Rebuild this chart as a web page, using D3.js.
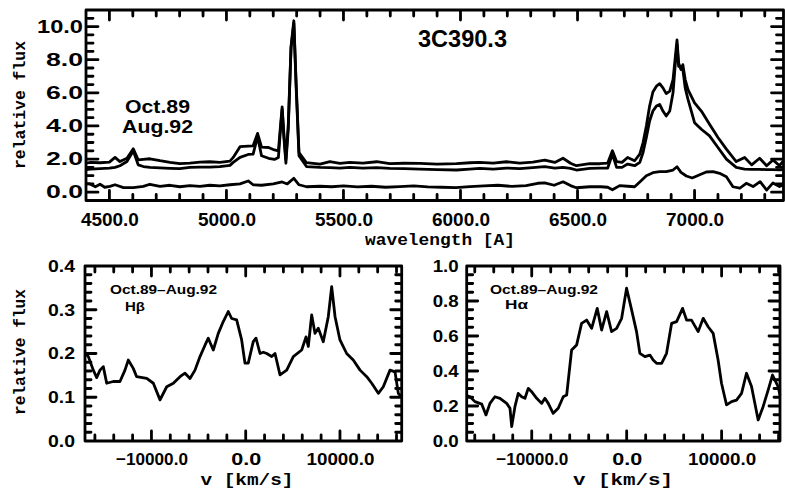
<!DOCTYPE html>
<html><head><meta charset="utf-8">
<script src="https://cdn.jsdelivr.net/npm/d3@7"></script>
<style>body{margin:0;background:#fff}svg{display:block}</style>
</head><body>
<svg id="c" width="785" height="492" viewBox="0 0 785 492"></svg>
<script>
// ---------- DATA ----------
// top panel: wavelength [A], relative flux
const oct89 = [[4400,1.75],[4420,1.8],[4460,1.78],[4500,1.82],[4524,2.1],[4545,1.85],[4575,2.05],[4602,2.62],[4623,1.95],[4645,1.98],[4673,2.02],[4716,1.9],[4759,1.8],[4801,1.72],[4844,1.76],[4887,1.82],[4929,1.84],[4972,1.8],[5015,1.88],[5029,2.1],[5058,2.75],[5093,2.78],[5114,2.8],[5133,3.55],[5150,2.72],[5180,2.7],[5205,2.55],[5222,2.5],[5231,4.0],[5238,5.15],[5246,3.4],[5254,2.0],[5264,4.0],[5276,8.8],[5288,10.35],[5298,6.5],[5310,2.4],[5342,1.78],[5400,1.7],[5442,1.84],[5485,1.74],[5527,1.8],[5583,1.76],[5642,1.84],[5698,1.72],[5760,1.75],[5826,1.74],[5900,1.7],[5983,1.72],[6040,1.78],[6082,1.8],[6140,1.76],[6196,1.84],[6253,1.76],[6309,1.82],[6360,1.94],[6403,1.8],[6438,2.05],[6470,1.75],[6495,1.6],[6552,1.72],[6595,1.72],[6629,1.76],[6649,2.5],[6667,1.85],[6690,1.8],[6714,2.1],[6744,1.9],[6766,2.3],[6780,3.0],[6794,4.0],[6808,5.2],[6822,6.05],[6837,6.4],[6851,6.55],[6865,6.3],[6879,5.95],[6894,6.1],[6908,6.8],[6918,8.2],[6925,9.2],[6932,7.8],[6942,7.4],[6950,7.7],[6960,6.8],[6972,6.2],[7000,5.4],[7029,4.9],[7064,4.1],[7100,3.3],[7136,2.6],[7178,1.85],[7214,2.1],[7244,1.65],[7278,2.05],[7308,1.6],[7335,1.95],[7363,1.6],[7380,1.9]];
const aug92 = [[4400,1.36],[4420,1.4],[4460,1.42],[4500,1.45],[4524,1.5],[4545,1.6],[4575,1.85],[4602,2.5],[4623,1.65],[4645,1.55],[4673,1.5],[4716,1.47],[4759,1.44],[4801,1.42],[4844,1.5],[4887,1.52],[4929,1.52],[4972,1.54],[5015,1.62],[5029,1.8],[5058,2.1],[5093,2.28],[5114,2.3],[5133,3.35],[5150,2.2],[5180,2.05],[5205,1.98],[5222,2.1],[5231,3.8],[5238,5.0],[5246,3.2],[5254,1.75],[5264,3.8],[5276,8.7],[5288,10.2],[5298,6.3],[5310,2.2],[5342,1.55],[5400,1.5],[5442,1.48],[5485,1.45],[5527,1.5],[5583,1.46],[5642,1.48],[5698,1.44],[5760,1.42],[5826,1.4],[5900,1.36],[5983,1.34],[6040,1.4],[6082,1.44],[6140,1.4],[6196,1.46],[6253,1.42],[6309,1.48],[6360,1.54],[6403,1.46],[6438,1.5],[6470,1.44],[6495,1.34],[6552,1.44],[6595,1.46],[6629,1.46],[6649,2.3],[6667,1.5],[6690,1.5],[6714,1.7],[6744,1.6],[6766,1.8],[6780,2.4],[6794,3.3],[6808,4.3],[6822,4.9],[6837,5.2],[6851,5.3],[6865,4.9],[6879,4.6],[6894,4.9],[6908,6.0],[6918,7.8],[6925,8.9],[6932,7.6],[6942,7.6],[6950,7.4],[6960,6.3],[6972,5.6],[7000,4.2],[7029,3.8],[7064,3.4],[7100,2.7],[7136,2.0],[7178,1.5],[7214,1.4],[7244,1.38],[7278,1.38],[7308,1.36],[7335,1.36],[7363,1.35],[7380,1.36]];
const diff = [[4400,0.52],[4417,0.5],[4440,0.33],[4460,0.48],[4480,0.3],[4502,0.35],[4524,0.45],[4560,0.28],[4602,0.28],[4645,0.35],[4673,0.48],[4716,0.35],[4759,0.42],[4801,0.33],[4844,0.4],[4887,0.35],[4929,0.42],[4972,0.38],[5015,0.45],[5058,0.5],[5093,0.68],[5114,0.45],[5150,0.42],[5200,0.5],[5238,0.62],[5260,0.5],[5288,0.84],[5310,0.45],[5342,0.33],[5400,0.36],[5450,0.33],[5500,0.38],[5560,0.32],[5620,0.36],[5680,0.3],[5740,0.34],[5800,0.38],[5860,0.32],[5920,0.3],[5980,0.28],[6040,0.34],[6100,0.38],[6160,0.42],[6220,0.35],[6280,0.4],[6330,0.54],[6360,0.56],[6400,0.42],[6438,0.63],[6470,0.4],[6495,0.27],[6552,0.33],[6600,0.33],[6629,0.3],[6649,0.15],[6680,0.4],[6714,0.36],[6744,0.33],[6766,0.62],[6794,1.0],[6822,1.18],[6851,1.24],[6879,1.24],[6908,1.34],[6925,1.54],[6942,1.2],[6965,0.98],[6990,0.86],[7022,1.05],[7050,1.22],[7079,1.24],[7107,1.14],[7136,0.94],[7164,0.33],[7193,0.24],[7221,0.54],[7250,0.34],[7280,0.64],[7308,0.13],[7335,0.56],[7363,0.34],[7380,0.45]];
// bottom panels: velocity [km/s], relative flux (Oct.89 - Aug.92)
const hbeta = [[-17050,0.2],[-16700,0.193],[-16170,0.162],[-15810,0.145],[-15460,0.162],[-15110,0.17],[-14750,0.132],[-14050,0.136],[-13340,0.136],[-12810,0.162],[-12460,0.185],[-11930,0.166],[-11570,0.147],[-10500,0.143],[-9800,0.132],[-9090,0.094],[-8380,0.124],[-7680,0.132],[-6970,0.147],[-6440,0.155],[-5910,0.143],[-5380,0.162],[-4850,0.193],[-4320,0.219],[-3970,0.235],[-3440,0.208],[-2910,0.246],[-2380,0.273],[-1850,0.296],[-1490,0.28],[-960,0.277],[-430,0.231],[-80,0.178],[270,0.178],[800,0.227],[1090,0.235],[1520,0.2],[1870,0.203],[2230,0.2],[2760,0.193],[3110,0.2],[3640,0.151],[4350,0.162],[5050,0.193],[5940,0.208],[6400,0.238],[6640,0.216],[7000,0.288],[7350,0.246],[7700,0.258],[8230,0.227],[8760,0.284],[9120,0.353],[9480,0.284],[10000,0.231],[10710,0.2],[11410,0.185],[12130,0.162],[12840,0.147],[13370,0.132],[14070,0.109],[14600,0.124],[15310,0.162],[15840,0.158],[16190,0.109],[16550,0.1]];
const halpha = [[-16850,0.26],[-16500,0.253],[-15980,0.225],[-15270,0.211],[-14820,0.149],[-14400,0.215],[-13880,0.253],[-13350,0.244],[-12640,0.215],[-12290,0.187],[-12110,0.082],[-11770,0.196],[-11420,0.272],[-11060,0.253],[-10710,0.244],[-10370,0.301],[-10010,0.282],[-9480,0.244],[-8960,0.215],[-8610,0.244],[-8260,0.215],[-7740,0.158],[-7210,0.187],[-6680,0.253],[-6320,0.263],[-5800,0.52],[-5270,0.549],[-4750,0.672],[-4220,0.691],[-3690,0.644],[-3100,0.758],[-2640,0.634],[-2110,0.739],[-1590,0.625],[-1060,0.644],[-530,0.701],[-10,0.873],[520,0.749],[1040,0.625],[1390,0.501],[1920,0.482],[2450,0.491],[2790,0.463],[3150,0.444],[3680,0.444],[4200,0.501],[4730,0.672],[5260,0.682],[5890,0.758],[6310,0.691],[6830,0.691],[7530,0.625],[8060,0.701],[8580,0.653],[9110,0.615],[9630,0.463],[9990,0.33],[10520,0.206],[11050,0.225],[11570,0.234],[12100,0.272],[12620,0.387],[13150,0.311],[13850,0.12],[14370,0.196],[14900,0.291],[15360,0.377],[15950,0.311],[16150,0.26]];
// ticks
const topXMajor = [4500,5000,5500,6000,6500,7000];
const topXMinor = d3.range(4500,7400,100);
const topYMajor = [0,2,4,6,8,10];
const topYMinor = d3.range(-0.5,11.01,0.5);
const velMajor = [-10000,0,10000];
const velMinor = d3.range(-16000,16001,2000);
const hbYMajor = [0,0.1,0.2,0.3,0.4];
const hbYMinor = d3.range(0,0.401,0.02);
const haYMajor = [0,0.2,0.4,0.6,0.8,1.0];
const haYMinor = d3.range(0,1.001,0.05);

// ---------- DRAWING ----------
const svg = d3.select('#c');
const SANS = "'Liberation Sans', Arial, sans-serif";
const MONO = "'Liberation Mono', 'DejaVu Sans Mono', monospace";
const LW = 2.8;

function panel(cfg) {
  const x = d3.scaleLinear().domain(cfg.xd).range([cfg.x0, cfg.x1]);
  const y = d3.scaleLinear().domain(cfg.yd).range([cfg.y1, cfg.y0]);
  const line = d3.line().x(d => x(d[0])).y(d => y(d[1]));
  cfg.series.forEach(s => svg.append('path').attr('d', line(s))
    .attr('fill', 'none').attr('stroke', '#000').attr('stroke-width', LW)
    .attr('stroke-linejoin', 'round'));

  // frame with inward tick spurs, traced as one continuous polyline
  const xt = cfg.xMinor.map(v => [v, cfg.tx[1]]).concat(cfg.xMajor.map(v => [v, cfg.tx[0]]))
    .sort((a, b) => a[0] - b[0]);
  const yt = cfg.yMinor.map(v => [v, cfg.ty[1]]).concat(cfg.yMajor.map(v => [v, cfg.ty[0]]))
    .sort((a, b) => a[0] - b[0]);
  const pts = [[cfg.x0, cfg.y1]];
  xt.forEach(([v, len]) => { const px = x(v); pts.push([px, cfg.y1], [px, cfg.y1 - len], [px, cfg.y1]); });
  pts.push([cfg.x1, cfg.y1]);
  yt.forEach(([v, len]) => { const py = y(v); pts.push([cfg.x1, py], [cfg.x1 - len, py], [cfg.x1, py]); });
  pts.push([cfg.x1, cfg.y0]);
  xt.slice().reverse().forEach(([v, len]) => { const px = x(v); pts.push([px, cfg.y0], [px, cfg.y0 + len], [px, cfg.y0]); });
  pts.push([cfg.x0, cfg.y0]);
  yt.slice().reverse().forEach(([v, len]) => { const py = y(v); pts.push([cfg.x0, py], [cfg.x0 + len, py], [cfg.x0, py]); });
  pts.push([cfg.x0, cfg.y1]);
  svg.append('path').attr('d', d3.line()(pts)).attr('fill', 'none')
    .attr('stroke', '#000').attr('stroke-width', LW).attr('stroke-linejoin', 'round');

  // tick labels through d3 axes
  const f1 = d3.format('.1f');
  const bx = svg.append('g').attr('transform', `translate(0,${cfg.y1})`)
    .call(d3.axisBottom(x).tickValues(cfg.xMajor).tickSize(0).tickPadding(cfg.xPad).tickFormat(f1));
  const ly = svg.append('g').attr('transform', `translate(${cfg.x0},0)`)
    .call(d3.axisLeft(y).tickValues(cfg.yMajor).tickSize(0).tickPadding(cfg.yPad).tickFormat(f1));
  [bx, ly].forEach(ag => {
    ag.select('.domain').remove();
    ag.selectAll('.tick line').remove();
    ag.selectAll('text').attr('font-family', SANS).attr('font-weight', 'bold')
      .attr('font-size', cfg.fs).attr('fill', '#000');
  });
  bx.selectAll('text').attr('textLength', cfg.xW).attr('lengthAdjust', 'spacingAndGlyphs');
  ly.selectAll('text').attr('textLength', cfg.yW).attr('lengthAdjust', 'spacingAndGlyphs');
}

panel({x0: 86, x1: 783.5, y0: 10, y1: 200.5, xd: [4400, 7380], yd: [-0.5, 11],
  series: [oct89, aug92, diff], xMajor: topXMajor, xMinor: topXMinor, yMajor: topYMajor, yMinor: topYMinor,
  tx: [10, 6], ty: [12, 7], xPad: 13, yPad: 3, fs: 18,
  xW: 58, yW: d => d === 10 ? 46 : 37});
panel({x0: 85, x1: 401.7, y0: 266, y1: 441, xd: [-17050, 16550], yd: [0, 0.4],
  series: [hbeta], xMajor: velMajor, xMinor: velMinor, yMajor: hbYMajor, yMinor: hbYMinor,
  tx: [10, 6], ty: [11, 6], xPad: 12, yPad: 10, fs: 17,
  xW: d => d < 0 ? 72 : (d === 0 ? 30 : 68), yW: 27});
panel({x0: 466.7, x1: 780, y0: 266, y1: 441, xd: [-16850, 16150], yd: [0, 1],
  series: [halpha], xMajor: velMajor, xMinor: velMinor, yMajor: haYMajor, yMinor: haYMinor,
  tx: [10, 6], ty: [11, 6], xPad: 12, yPad: 8, fs: 17,
  xW: d => d < 0 ? 72 : (d === 0 ? 30 : 68), yW: 26});

function label(txt, x, y, o) {
  const t = svg.append('text').text(txt).attr('x', x).attr('y', y)
    .attr('font-family', o.mono ? MONO : SANS).attr('font-weight', 'bold')
    .attr('font-size', o.fs).attr('fill', '#000').attr('text-anchor', o.anchor || 'start');
  if (o.w) t.attr('textLength', o.w).attr('lengthAdjust', 'spacingAndGlyphs');
  if (o.rot) t.attr('transform', `rotate(-90,${x},${y})`);
  return t;
}
label('3C390.3', 418, 47, {fs: 24, w: 89});
label('Oct.89', 125, 113, {fs: 19, w: 65});
label('Aug.92', 122, 133, {fs: 19, w: 71});
label('relative flux', 25, 105, {fs: 17, mono: true, anchor: 'middle', rot: true, w: 128});
label('wavelength [A]', 440, 245, {fs: 17, mono: true, anchor: 'middle', w: 150});
label('relative flux', 25, 352, {fs: 17, mono: true, anchor: 'middle', rot: true, w: 126});
label('v [km/s]', 247, 485, {fs: 17, mono: true, anchor: 'middle', w: 93});
label('v [km/s]', 623, 485, {fs: 17, mono: true, anchor: 'middle', w: 100});
label('Oct.89\u2013Aug.92', 110, 294, {fs: 12, w: 107});
label('H\u03b2', 125, 311, {fs: 12, w: 20});
label('Oct.89\u2013Aug.92', 490, 294, {fs: 12, w: 108});
label('H\u03b1', 505, 309, {fs: 12, w: 23});
</script>
</body></html>
